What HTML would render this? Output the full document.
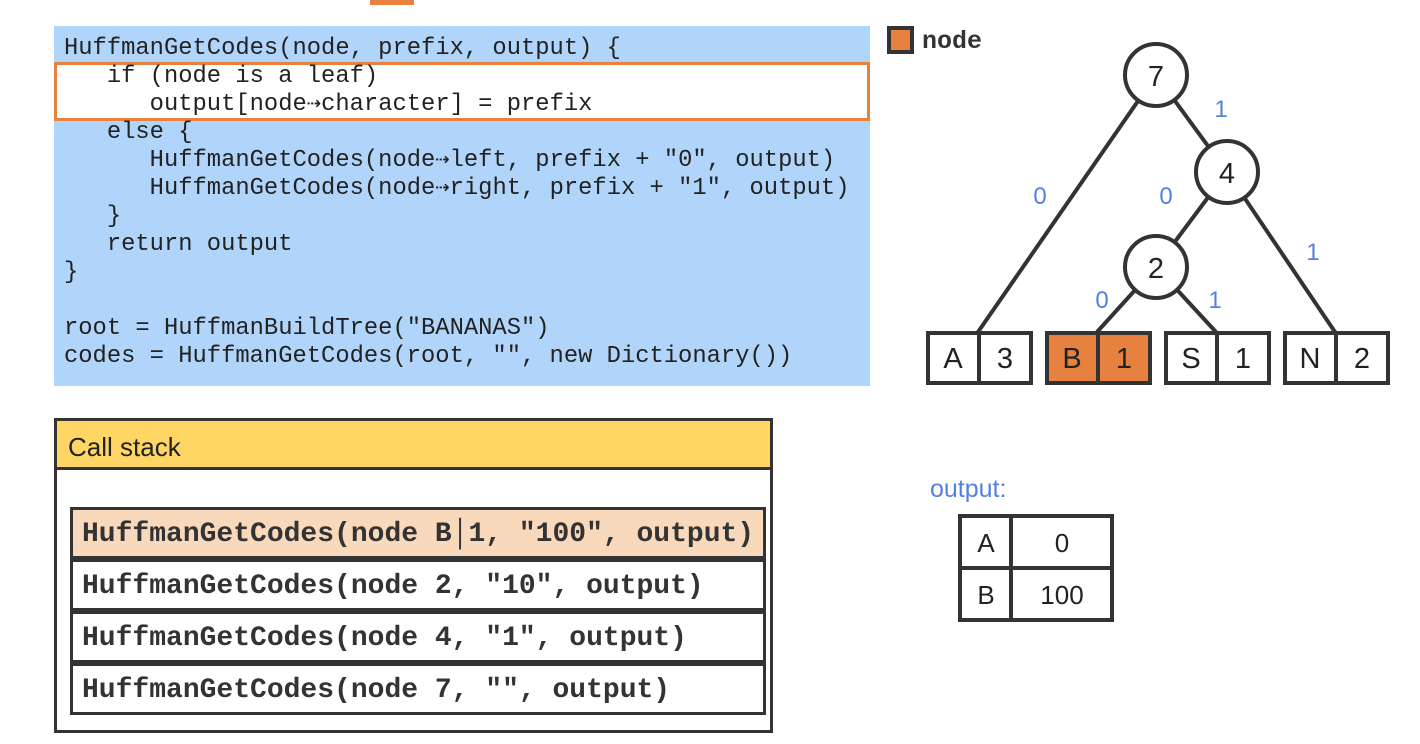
<!DOCTYPE html>
<html><head><meta charset="utf-8"><style>
body{margin:0;width:1420px;height:744px;background:#fff;position:relative;overflow:hidden;font-family:"Liberation Sans",sans-serif}
.code{position:absolute;left:54px;top:26px;width:816px;height:360px;background:#b1d5fa}
.ln{position:absolute;left:64px;font-family:"Liberation Mono",monospace;font-size:23.8px;color:#222;white-space:pre;line-height:28px}
.hl{position:absolute;left:54px;top:62px;width:810px;height:53px;border:3px solid #e6813f;background:#fff}
.cs{position:absolute;left:54px;top:418px;width:713px;height:309px;border:3px solid #333}
.csh{position:absolute;left:0;top:0;width:713px;height:49px;background:#ffd563;border-bottom:3px solid #333;font-size:26px;color:#222;line-height:52px;padding-left:11px;box-sizing:border-box}
.row{position:absolute;left:70px;width:681px;height:46px;border:3px solid #333;font-family:"Liberation Mono",monospace;font-weight:bold;font-size:28px;color:#333;line-height:50px;padding-left:9px;white-space:pre}
.t{font-family:"Liberation Sans",sans-serif}
</style></head><body>
<div style="position:absolute;left:370px;top:0;width:44px;height:5px;background:#e6813f"></div>
<div class="code"></div>
<div class="hl"></div>
<div class="ln" style="top:35px">HuffmanGetCodes(node, prefix, output) {</div>
<div class="ln" style="top:63px">   if (node is a leaf)</div>
<div class="ln" style="top:91px">      output[node⇢character] = prefix</div>
<div class="ln" style="top:119px">   else {</div>
<div class="ln" style="top:147px">      HuffmanGetCodes(node⇢left, prefix + "0", output)</div>
<div class="ln" style="top:175px">      HuffmanGetCodes(node⇢right, prefix + "1", output)</div>
<div class="ln" style="top:203px">   }</div>
<div class="ln" style="top:231px">   return output</div>
<div class="ln" style="top:259px">}</div>
<div class="ln" style="top:315px">root = HuffmanBuildTree("BANANAS")</div>
<div class="ln" style="top:343px">codes = HuffmanGetCodes(root, "", new Dictionary())</div>

<div class="cs"><div class="csh">Call stack</div></div>
<div class="row" style="top:507px;background:#f9d9bb">HuffmanGetCodes(node B│1, "100", output)</div>
<div class="row" style="top:559px;background:#fff">HuffmanGetCodes(node 2, "10", output)</div>
<div class="row" style="top:611px;background:#fff">HuffmanGetCodes(node 4, "1", output)</div>
<div class="row" style="top:663px;background:#fff">HuffmanGetCodes(node 7, "", output)</div>

<svg style="position:absolute;left:0;top:0" width="1420" height="744">
<g stroke="#333" stroke-width="4" fill="none">
<line x1="1156" y1="75" x2="978" y2="332"/>
<line x1="1156" y1="75" x2="1227" y2="172"/>
<line x1="1227" y1="172" x2="1156" y2="267"/>
<line x1="1227" y1="172" x2="1335" y2="332"/>
<line x1="1156" y1="267" x2="1097" y2="332"/>
<line x1="1156" y1="267" x2="1216" y2="332"/>
</g>
<g stroke="#333" stroke-width="4" fill="#fff">
<circle cx="1156" cy="75" r="31"/><circle cx="1227" cy="172" r="31"/><circle cx="1156" cy="267" r="31"/>
<rect x="928" y="333" width="103" height="50"/><line x1="979" y1="333" x2="979" y2="383"/>
<rect x="1047" y="333" width="103" height="50" fill="#e6813f"/><line x1="1098" y1="333" x2="1098" y2="383"/>
<rect x="1166" y="333" width="103" height="50"/><line x1="1217" y1="333" x2="1217" y2="383"/>
<rect x="1285" y="333" width="103" height="50"/><line x1="1336" y1="333" x2="1336" y2="383"/>
<rect x="889" y="28" width="23" height="24" fill="#e6813f"/>
<rect x="960" y="516" width="152" height="104"/><line x1="1011" y1="516" x2="1011" y2="620"/><line x1="960" y1="568" x2="1112" y2="568"/>
</g>
<g class="t" style="font-size:29px" fill="#222" text-anchor="middle">
<text x="1156" y="86">7</text><text x="1227" y="183">4</text><text x="1156" y="278">2</text>
<text x="953" y="368">A</text><text x="1005" y="368">3</text>
<text x="1072" y="368">B</text><text x="1124" y="368">1</text>
<text x="1191" y="368">S</text><text x="1243" y="368">1</text>
<text x="1310" y="368">N</text><text x="1362" y="368">2</text>
<text x="986" y="552" style="font-size:26px">A</text><text x="1062" y="552" style="font-size:26px">0</text>
<text x="986" y="604" style="font-size:26px">B</text><text x="1062" y="604" style="font-size:26px">100</text>
</g>
<g class="t" style="font-size:24px" fill="#5480e0" text-anchor="middle">
<text x="1221" y="117">1</text><text x="1040" y="204">0</text><text x="1166" y="204">0</text>
<text x="1313" y="260">1</text><text x="1102" y="308">0</text><text x="1215" y="308">1</text>
<text x="930" y="497" style="font-size:25px" text-anchor="start">output:</text>
</g>
<text x="922" y="48" style="font-family:'Liberation Mono',monospace;font-weight:bold;font-size:25px" fill="#333">node</text>
</svg>
</body></html>
